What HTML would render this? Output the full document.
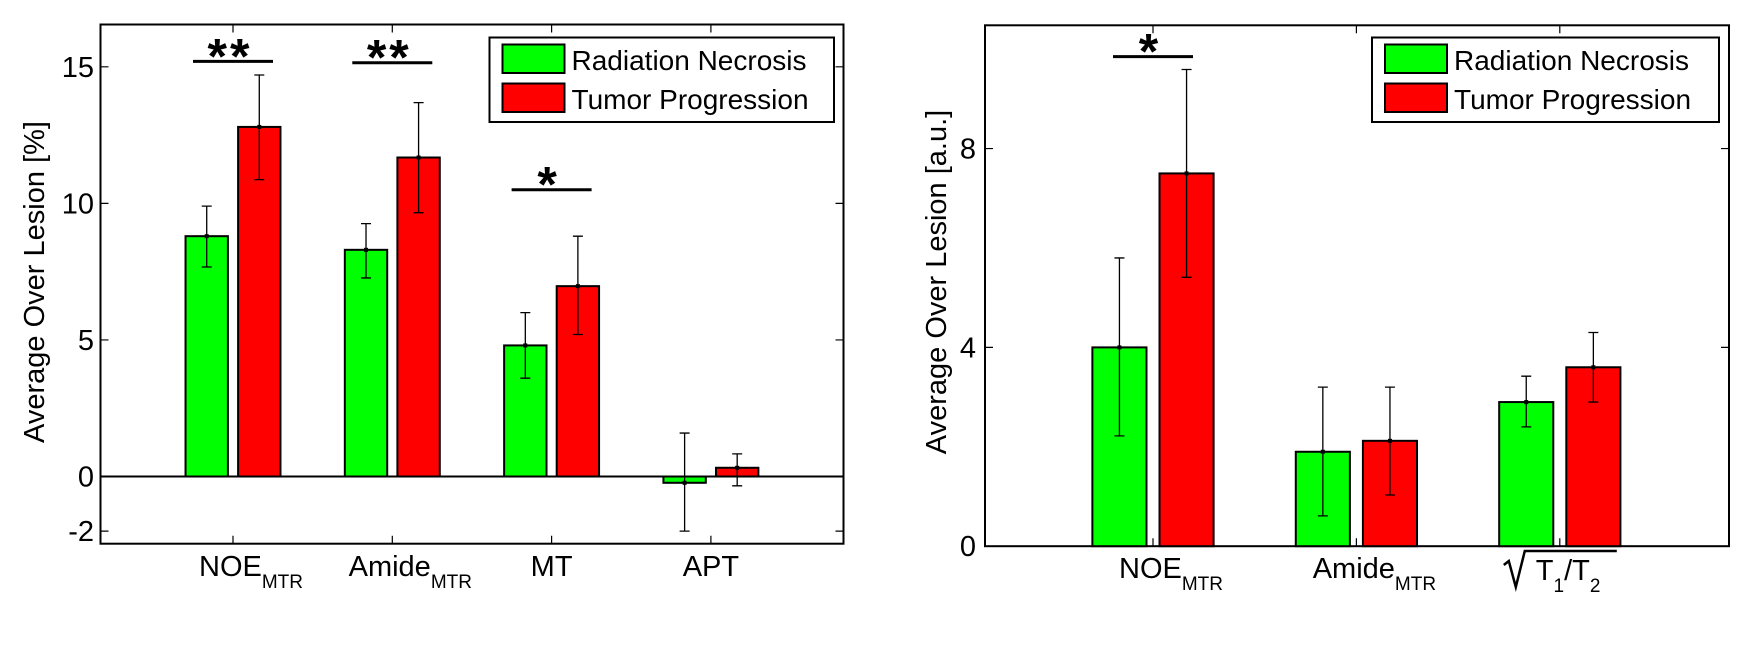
<!DOCTYPE html>
<html><head><meta charset="utf-8"><style>
html,body{margin:0;padding:0;background:#fff;}
svg{display:block;font-family:"Liberation Sans",Arial,sans-serif;}
</style></head><body>
<svg id="fig" width="1742" height="662" viewBox="0 0 1742 662" xmlns="http://www.w3.org/2000/svg">
<g id="left"></g>
<g id="right"></g>
</svg>
<script>
// Left chart data
const leftCategories = ["NOE", "Amide", "MT", "APT"];
const leftSubs = ["MTR", "MTR", "", ""];
const leftNecrosis = [8.8, 8.3, 4.8, -0.23];
const leftNecrosisLo = [7.67, 7.27, 3.6, -2.0];
const leftNecrosisHi = [9.9, 9.26, 6.0, 1.59];
const leftProgression = [12.8, 11.68, 6.97, 0.32];
const leftProgressionLo = [10.87, 9.66, 5.2, -0.34];
const leftProgressionHi = [14.7, 13.69, 8.8, 0.83];
const leftTicks = [-2, 0, 5, 10, 15];
const leftSig = ["**", "**", "*", ""];
const leftSigLevel = [15.2, 15.15, 10.5, 0];

// Right chart data
const rightCategories = ["NOE", "Amide", "sqrt"];
const rightSubs = ["MTR", "MTR", ""];
const rightNecrosis = [4.0, 1.9, 2.9];
const rightNecrosisLo = [2.22, 0.61, 2.4];
const rightNecrosisHi = [5.8, 3.2, 3.42];
const rightProgression = [7.5, 2.12, 3.6];
const rightProgressionLo = [5.41, 1.03, 2.9];
const rightProgressionHi = [9.59, 3.2, 4.3];
const rightTicks = [0, 4, 8];
const rightSig = ["*", "", ""];
const rightSigLevel = [9.85, 0, 0];

const NS = "http://www.w3.org/2000/svg";
function mk(parent, tag, attrs, text) {
  const e = document.createElementNS(NS, tag);
  for (const k in attrs) e.setAttribute(k, attrs[k]);
  if (text !== undefined) e.textContent = text;
  parent.appendChild(e);
  return e;
}

function drawChart(g, cfg) {
  const {L, R, T, B, ymin, ymax, x0, dx} = cfg;
  const y = v => B - (v - ymin) / (ymax - ymin) * (B - T);
  const x = i => x0 + i * dx;
  const off = 0.165 * dx, bw = 0.266 * dx;
  const box = mk(g, "rect", {x: L, y: T, width: R - L, height: B - T, fill: "none", stroke: "#000", "stroke-width": 2});
  
  
  cfg.ticks.forEach(t => {
    const yy = y(t);
    const tl = mk(g, "path", {d: `M${L} ${yy}h8M${R} ${yy}h-8`, stroke: "#000", "stroke-width": 1.2});
    
    
    const lab = mk(g, "text", {x: cfg.tickRight, y: yy + 10, "text-anchor": "end", "font-size": 29}, String(t));
    
    
  });
  cfg.cats.forEach((c, i) => {
    const xx = x(i);
    const tk = mk(g, "path", {d: `M${xx} ${B}v-8M${xx} ${T}v8`, stroke: "#000", "stroke-width": 1.2});
    
    
  });
  if (ymin < 0) {
    const z = mk(g, "line", {x1: L, x2: R, y1: y(0), y2: y(0), stroke: "#000", "stroke-width": 2});
    
    
  }
  const series = [
    {vals: cfg.nec, lo: cfg.necLo, hi: cfg.necHi, col: "#00ff00", d: -off, name: "necrosis"},
    {vals: cfg.pro, lo: cfg.proLo, hi: cfg.proHi, col: "#ff0000", d: off, name: "progression"}
  ];
  series.forEach(s => {
    s.vals.forEach((v, i) => {
      const cx = x(i) + s.d;
      const y0 = y(0), yv = y(v);
      const r = mk(g, "rect", {x: cx - bw / 2, y: Math.min(y0, yv), width: bw, height: Math.abs(y0 - yv), fill: s.col, stroke: "#000", "stroke-width": 2});
      
      
      const e = mk(g, "path", {d: `M${cx} ${y(s.hi[i])}V${y(s.lo[i])}M${cx - 5} ${y(s.hi[i])}h10M${cx - 5} ${y(s.lo[i])}h10`, stroke: "#000", "stroke-width": 1.3, fill: "none"});
      
      
      const d = mk(g, "rect", {x: cx - 2, y: yv - 2, width: 4, height: 4, fill: "#000"});
      
      
    });
  });
  cfg.sig.forEach((s, i) => {
    if (!s) return;
    const yy = y(cfg.sigLevel[i]);
    const l = mk(g, "line", {x1: x(i) - 40, x2: x(i) + 40, y1: yy, y2: yy, stroke: "#000", "stroke-width": 3});
    
    
    const st = mk(g, "text", {x: x(i) - 3, y: yy + 12, "text-anchor": "middle", "font-size": 50, "font-weight": "bold", "letter-spacing": 3}, s);
    
    
  });
  cfg.cats.forEach((c, i) => {
    const xx = x(i);
    if (c === "sqrt") {
      const lg = mk(g, "g", {});
      
      
      mk(lg, "path", {d: `M${xx - 56} 565l5 -4l7 26l9 -36h92`, stroke: "#000", "stroke-width": 2.5, fill: "none"});
      const t = mk(lg, "text", {x: xx - 24, y: cfg.labelY + 2, "font-size": 29});
      t.innerHTML = 'T<tspan font-size="19" dy="12">1</tspan><tspan dy="-12">/T</tspan><tspan font-size="19" dy="12">2</tspan>';
      return;
    }
    const t = mk(g, "text", {x: xx, y: cfg.labelY, "text-anchor": "middle", "font-size": 29});
    
    
    if (cfg.subs[i]) {
      t.innerHTML = c + '<tspan font-size="19" dy="12">' + cfg.subs[i] + '</tspan>';
      t.setAttribute('x', xx + 18);
    } else t.textContent = c;
  });
  const yl = mk(g, "text", {x: 0, y: 0, "text-anchor": "middle", "font-size": 29, transform: `translate(${cfg.ylabX},282) rotate(-90)`}, cfg.ylabel);
  
  
  const lg = mk(g, "g", {});
  
  
  const lx = cfg.legX, lw = cfg.legW;
  mk(lg, "rect", {x: lx, y: 37.5, width: lw, height: 84.5, fill: "#fff", stroke: "#000", "stroke-width": 2});
  const e1 = mk(lg, "rect", {x: lx + 13, y: 44.5, width: 62, height: 28.5, fill: "#00ff00", stroke: "#000", "stroke-width": 2});
  
  
  const e2 = mk(lg, "rect", {x: lx + 13, y: 83.5, width: 62, height: 28.5, fill: "#ff0000", stroke: "#000", "stroke-width": 2});
  
  
  const t1 = mk(lg, "text", {x: lx + 82, y: 70, "font-size": 28}, "Radiation Necrosis");
  
  
  const t2 = mk(lg, "text", {x: lx + 82, y: 109, "font-size": 28}, "Tumor Progression");
  
  
}

drawChart(document.getElementById("left"), {
  L: 100.5, R: 843.5, T: 24.5, B: 543.7, ymin: -2.46, ymax: 16.55, x0: 233, dx: 159.3,
  ticks: leftTicks, tickRight: 94, cats: leftCategories, subs: leftSubs,
  nec: leftNecrosis, necLo: leftNecrosisLo, necHi: leftNecrosisHi,
  pro: leftProgression, proLo: leftProgressionLo, proHi: leftProgressionHi,
  sig: leftSig, sigLevel: leftSigLevel, labelY: 576, ylabX: 44,
  ylabel: "Average Over Lesion [%]", legX: 489.5, legW: 344.5
});
drawChart(document.getElementById("right"), {
  L: 985, R: 1729, T: 25.3, B: 546.2, ymin: 0, ymax: 10.48, x0: 1153, dx: 203.4,
  ticks: rightTicks, tickRight: 976, cats: rightCategories, subs: rightSubs,
  nec: rightNecrosis, necLo: rightNecrosisLo, necHi: rightNecrosisHi,
  pro: rightProgression, proLo: rightProgressionLo, proHi: rightProgressionHi,
  sig: rightSig, sigLevel: rightSigLevel, labelY: 578, ylabX: 946,
  ylabel: "Average Over Lesion [a.u.]", legX: 1372, legW: 347
});
</script>
</body></html>
